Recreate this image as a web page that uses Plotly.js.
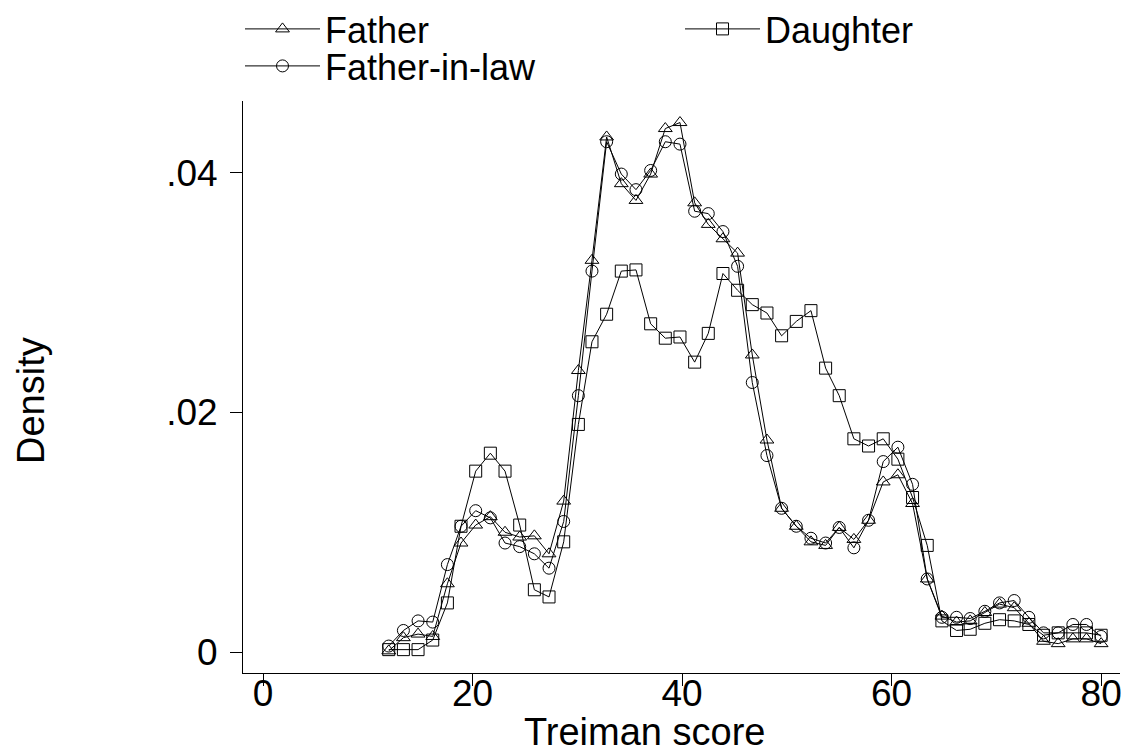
<!DOCTYPE html>
<html>
<head>
<meta charset="utf-8">
<script src="https://cdn.plot.ly/plotly-3.0.1.min.js"></script>
<style>body{margin:0;padding:0;background:#fff}#chart{width:1130px;height:754px}</style>
</head>
<body>
<div id="chart"></div>
<script>
// Treiman score evaluation points
const score = [12.0, 13.4, 14.8, 16.2, 17.6, 18.9, 20.3, 21.7, 23.1, 24.5,
  25.9, 27.3, 28.7, 30.1, 31.4, 32.8, 34.2, 35.6, 37.0, 38.4,
  39.8, 41.2, 42.5, 43.9, 45.3, 46.7, 48.1, 49.5, 50.9, 52.3,
  53.7, 55.0, 56.4, 57.8, 59.2, 60.6, 62.0, 63.4, 64.8, 66.2,
  67.5, 68.9, 70.3, 71.7, 73.1, 74.5, 75.9, 77.3, 78.6, 80.0];

const father = [0.0001, 0.0012, 0.0015, 0.0013, 0.0057, 0.0091, 0.0106, 0.0113, 0.0100, 0.0096,
  0.0097, 0.0082, 0.0126, 0.0235, 0.0327, 0.0430, 0.0391, 0.0377, 0.0399, 0.0437,
  0.0442, 0.0375, 0.0357, 0.0345, 0.0333, 0.0248, 0.0177, 0.0120, 0.0105, 0.0092,
  0.0089, 0.0104, 0.0094, 0.0110, 0.0142, 0.0148, 0.0124, 0.0061, 0.0030, 0.0025,
  0.0026, 0.0033, 0.0040, 0.0037, 0.0024, 0.0009, 0.0007, 0.0011, 0.0011, 0.0007];

const daughter = [0.0002, 0.0002, 0.0002, 0.0010, 0.0041, 0.0105, 0.0151, 0.0166, 0.0151, 0.0106,
  0.0052, 0.0046, 0.0092, 0.0190, 0.0259, 0.0282, 0.0318, 0.0319, 0.0274, 0.0262,
  0.0263, 0.0242, 0.0266, 0.0316, 0.0302, 0.0290, 0.0283, 0.0264, 0.0276, 0.0285,
  0.0237, 0.0214, 0.0178, 0.0172, 0.0178, 0.0161, 0.0129, 0.0089, 0.0026, 0.0018,
  0.0019, 0.0024, 0.0027, 0.0026, 0.0023, 0.0014, 0.0016, 0.0016, 0.0016, 0.0014];

const fatherInLaw = [0.0005, 0.0018, 0.0026, 0.0025, 0.0073, 0.0105, 0.0118, 0.0112, 0.0091, 0.0088,
  0.0082, 0.0070, 0.0109, 0.0214, 0.0318, 0.0426, 0.0399, 0.0386, 0.0402, 0.0426,
  0.0424, 0.0368, 0.0366, 0.0351, 0.0322, 0.0225, 0.0164, 0.0120, 0.0105, 0.0095,
  0.0091, 0.0104, 0.0087, 0.0110, 0.0159, 0.0171, 0.0140, 0.0061, 0.0029, 0.0029,
  0.0028, 0.0034, 0.0041, 0.0043, 0.0029, 0.0016, 0.0016, 0.0023, 0.0023, 0.0013];

const seriesNames = ['Father', 'Daughter', 'Father-in-law'];
const xTicks = [0, 20, 40, 60, 80];
const yTicks = [0, 0.02, 0.04];
const yTickText = ['0', '.02', '.04'];
const xTitle = 'Treiman score';
const yTitle = 'Density';

const FONT = 'Liberation Sans, Arial, sans-serif';
const FS_LEG = 36, FS_TICK = 37, FS_TITLE = 38;
function tr(name, y, sym, leg) {
  return {
    x: score, y: y, name: name, type: 'scatter', mode: 'lines+markers', legend: leg,
    line: {color: '#000', width: 1},
    marker: {symbol: sym, size: 12, color: '#000', line: {color: '#000', width: 1}}
  };
}
const data = [
  tr(seriesNames[0], father, 'triangle-up-open', 'legend'),
  tr(seriesNames[1], daughter, 'square-open', 'legend'),
  tr(seriesNames[2], fatherInLaw, 'circle-open', 'legend2')
];

const legBase = {
  orientation: 'h', x: -3 / 877, xanchor: 'left', yanchor: 'top',
  font: {family: FONT, size: FS_LEG, color: '#000'},
  itemwidth: 75, tracegroupgap: 0, bgcolor: 'rgba(0,0,0,0)'
};

const layout = {
  width: 1130, height: 754,
  margin: {l: 243, r: 10, t: 101, b: 81, autoexpand: false},
  paper_bgcolor: '#fff', plot_bgcolor: '#fff',
  font: {family: FONT, color: '#000', size: FS_TICK},
  showlegend: true,
  legend: Object.assign({}, legBase, {y: 1 + 102 / 572, entrywidth: 350, entrywidthmode: 'pixels'}),
  legend2: Object.assign({}, legBase, {y: 1 + 65 / 572}),
  xaxis: {
    range: [-1.91, 81.8], tickvals: xTicks, ticktext: xTicks.map(String),
    showgrid: false, zeroline: false, showline: true, linecolor: '#000', linewidth: 1,
    ticks: 'outside', ticklen: 12, tickcolor: '#000', tickwidth: 1,
    ticklabelstandoff: -24,
    tickfont: {family: FONT, size: FS_TICK, color: '#000'},
    automargin: false
  },
  yaxis: {
    range: [-0.00175, 0.0460], tickvals: yTicks, ticktext: yTickText,
    showgrid: false, zeroline: false, showline: true, linecolor: '#000', linewidth: 1,
    ticks: 'outside', ticklen: 12, tickcolor: '#000', tickwidth: 1,
    ticklabelstandoff: 5,
    tickfont: {family: FONT, size: FS_TICK, color: '#000'},
    automargin: false
  },
  annotations: [
    {text: xTitle, xref: 'paper', yref: 'paper', x: (644 - 243) / 877, y: -(754 - 673) / 572,
     xanchor: 'center', yanchor: 'bottom', showarrow: false, borderpad: 0,
     font: {family: FONT, size: FS_TITLE, color: '#000'}},
    {text: yTitle, xref: 'paper', yref: 'paper', x: -(243 - 31) / 877, y: (673 - 401) / 572,
     xanchor: 'center', yanchor: 'middle', showarrow: false, textangle: -90,
     font: {family: FONT, size: FS_TITLE, color: '#000'}}
  ]
};
Plotly.newPlot('chart', data, layout, {displayModeBar: false, staticPlot: true});
</script>
</body>
</html>
